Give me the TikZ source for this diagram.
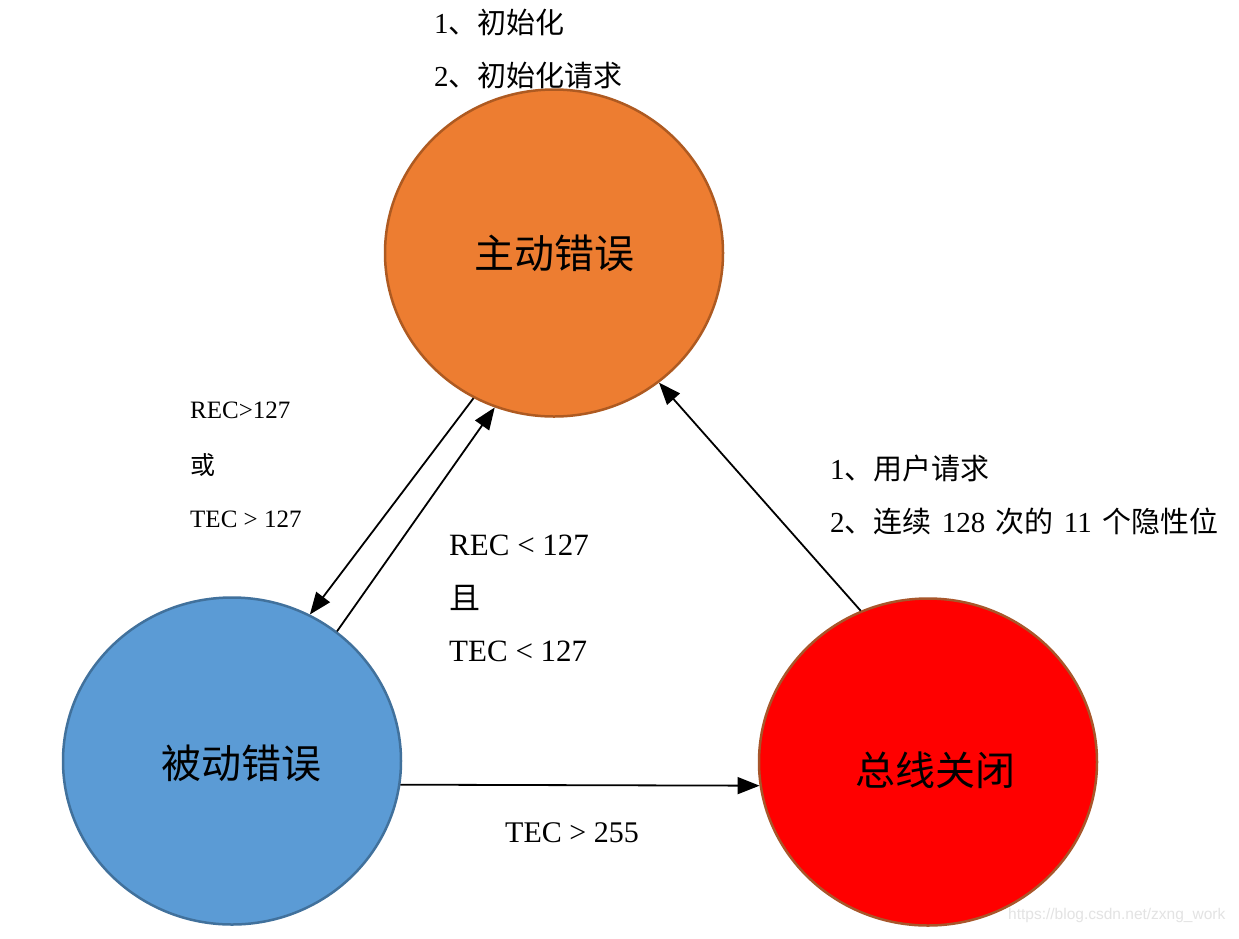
\documentclass[tikz,border=0pt]{standalone}
\usepackage{fontspec}
\setmainfont{Liberation Serif}
\newfontfamily\cjk{Noto Sans CJK SC}
\newfontfamily\wmfont{Liberation Sans}
\usetikzlibrary{shapes.geometric,arrows.meta}
\newcommand\myfs[1]{\fontsize{#1}{#1}\selectfont}
\definecolor{actfill}{HTML}{ED7D31}
\definecolor{actdraw}{HTML}{AE5A21}
\definecolor{pasfill}{HTML}{5B9BD5}
\definecolor{pasdraw}{HTML}{41719C}
\definecolor{busfill}{HTML}{FF0000}
\definecolor{busdraw}{HTML}{A8562A}
\begin{document}
\begin{tikzpicture}[x=1pt,y=-1pt,
  state/.style={ellipse, minimum width=338pt, minimum height=327pt, inner sep=0pt, line width=2.5pt},
  lab/.style={anchor=west, inner sep=0pt},
  conn/.style={line width=1.8pt, -{Triangle[length=22pt,width=17pt]}}]
\useasboundingbox[fill=white] (0,0) rectangle (1239,938);
\node[state, fill=actfill, draw=actdraw] (act) at (554,253) {\myfs{40}\cjk 主动错误};
\node[state, fill=pasfill, draw=pasdraw] (pas) at (232,761) {};
\node[state, fill=busfill, draw=busdraw] (bus) at (928,762) {};
\node (pastext) at (241,763) {\myfs{40}\cjk 被动错误};
\node (bustext) at (935,770) {\myfs{40}\cjk 总线关闭};
% connectors
\draw[conn] (act.241.3) -- (pas.62);
\draw[conn] (pas.51) -- (act.249.5);
\draw[conn] (bus.114) -- (act.309.4);
\draw[conn] (pas.-8.1) -- (bus.188.1);
% labels
\node[lab] (t1) at (434,22) {\myfs{29}1{\cjk 、初始化}};
\node[lab] (t2) at (434,75) {\myfs{29}2{\cjk 、初始化请求}};
\node[lab] (l1) at (190,410) {\myfs{25}REC>127};
\node[lab] (l2) at (190,465) {\myfs{25}\cjk 或};
\node[lab] (l3) at (190,519) {\myfs{25}TEC > 127};
\node[lab] (m1) at (449,545) {\myfs{31}REC < 127};
\node[lab] (m2) at (449,598) {\myfs{31}\cjk 且};
\node[lab] (m3) at (449,651) {\myfs{31}TEC < 127};
\node[lab] (r1) at (830,468) {\myfs{29}1{\cjk 、用户请求}};
\node[lab] (r2) at (830,521) {\myfs{29}2{\cjk 、连续}\hspace{3pt} 128 \hspace{3pt}{\cjk 次的}\hspace{3pt} 11 \hspace{3pt}{\cjk 个隐性位}};
\node[lab] (b1) at (505,833) {\myfs{30}TEC > 255};
\node[lab, text=gray!22] (wm) at (1008,915) {\myfs{15.5}\wmfont https://blog.csdn.net/zxng\_work};
\end{tikzpicture}
\end{document}
